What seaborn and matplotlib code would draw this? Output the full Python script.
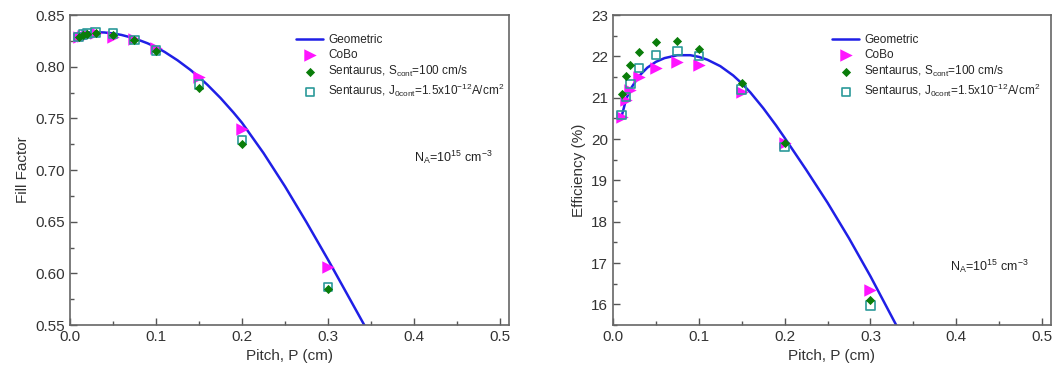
import numpy as np
import pandas as pd
import matplotlib
matplotlib.use("Agg")
import matplotlib.pyplot as plt
import seaborn as sns
from matplotlib.ticker import MultipleLocator, FormatStrFormatter

# pitch values of the simulated points (cm)
pitch_pts = [0.01, 0.015, 0.02, 0.03, 0.05, 0.075, 0.1, 0.15, 0.2, 0.3]

# geometric model curves
geo_ff_p = [0.005, 0.01, 0.02, 0.03, 0.04, 0.05, 0.06, 0.075, 0.09, 0.1, 0.11,
            0.125, 0.14, 0.15, 0.16, 0.175, 0.19, 0.2, 0.225, 0.25, 0.275,
            0.3, 0.325, 0.35]
geo_ff = [0.8316, 0.8323, 0.8332, 0.8335, 0.8332, 0.8323, 0.8308, 0.8275,
          0.8228, 0.819, 0.8144, 0.8063, 0.797, 0.790, 0.7824, 0.7698, 0.7558,
          0.7458, 0.7165, 0.6842, 0.6495, 0.6133, 0.5758, 0.5383]

geo_eff_p = [0.01, 0.015, 0.02, 0.03, 0.04, 0.05, 0.06, 0.075, 0.09, 0.1,
             0.11, 0.125, 0.14, 0.15, 0.16, 0.175, 0.19, 0.2, 0.225, 0.25,
             0.275, 0.3, 0.33]
geo_eff = [20.55, 20.95, 21.2, 21.52, 21.73, 21.87, 21.96, 22.03, 22.03, 21.99,
           21.92, 21.765, 21.54, 21.35, 21.13, 20.75, 20.33, 20.03, 19.26, 18.46,
           17.6, 16.68, 15.5]

# fill factor points
cobo_ff = [0.829, 0.830, 0.831, 0.833, 0.829, 0.827, 0.818, 0.790, 0.740, 0.606]
sent_s_ff = [0.829, 0.831, 0.832, 0.833, 0.831, 0.826, 0.815, 0.779, 0.725, 0.585]
sent_j_ff = [0.829, 0.831, 0.832, 0.833, 0.832, 0.826, 0.816, 0.783, 0.729, 0.587]

# efficiency points (%)
cobo_eff = [20.53, 20.94, 21.2, 21.5, 21.72, 21.87, 21.79, 21.14, 19.9, 16.35]
sent_s_eff = [21.09, 21.52, 21.79, 22.1, 22.35, 22.37, 22.18, 21.35, 19.9, 16.1]
sent_j_eff = [20.58, 21.02, 21.33, 21.72, 22.03, 22.13, 22.01, 21.2, 19.81, 15.98]

labels = ["Geometric", "CoBo",
          "Sentaurus, S$_{cont}$=100 cm/s",
          "Sentaurus, J$_{0cont}$=1.5x10$^{-12}$A/cm$^{2}$"]

sns.set_style("ticks")
plt.rcParams['font.family'] = ['Liberation Sans', 'DejaVu Sans']
plt.rcParams['mathtext.default'] = 'regular'

fig = plt.figure(figsize=(10.57, 3.78), dpi=100)
ax1 = fig.add_axes([0.0662, 0.140, 0.415, 0.820])
ax2 = fig.add_axes([0.580, 0.140, 0.414, 0.820])


def draw_panel(ax, geo_p, geo_y, cobo, sent_s, sent_j, leg_x):
    sns.lineplot(x=geo_p, y=geo_y, ax=ax, color='#1f1fe6', linewidth=1.8,
                 label=labels[0], zorder=2)
    sns.scatterplot(x=pitch_pts, y=cobo, ax=ax, marker='>', s=80,
                    color='#ff14ff', edgecolor='#ff14ff', linewidth=0,
                    label=labels[1], zorder=3)
    sns.scatterplot(x=pitch_pts, y=sent_j, ax=ax, marker='s', s=38,
                    facecolor='none', edgecolor='#2b9a9a', linewidth=1.2,
                    label=labels[3], zorder=4)
    sns.scatterplot(x=pitch_pts, y=sent_s, ax=ax, marker='D', s=22,
                    color='#0a7d0a', edgecolor='#0a7d0a', linewidth=0,
                    label=labels[2], zorder=5)
    handles, labs = ax.get_legend_handles_labels()
    order = [labs.index(l) for l in labels]
    ax.legend([handles[i] for i in order], [labs[i] for i in order],
              loc='upper left', bbox_to_anchor=(leg_x, 0.955), frameon=False,
              fontsize=8.5, handlelength=2.3, handletextpad=0.4,
              labelspacing=0.25, borderaxespad=0)
    ax.set_xlim(0, 0.51)
    ax.xaxis.set_major_locator(MultipleLocator(0.1))
    ax.xaxis.set_minor_locator(MultipleLocator(0.05))
    ax.set_xlabel("Pitch, P (cm)", fontsize=11, color='#333333')
    ax.tick_params(which='both', direction='in', top=False, right=False,
                   colors='#555555', labelcolor='#333333', labelsize=11)
    ax.tick_params(which='major', length=5, width=1)
    ax.tick_params(which='minor', length=3, width=1)
    for sp in ax.spines.values():
        sp.set_visible(True)
        sp.set_color('#666666')
        sp.set_linewidth(1.2)


draw_panel(ax1, geo_ff_p, geo_ff, cobo_ff, sent_s_ff, sent_j_ff, 0.505)
ax1.set_ylim(0.55, 0.85)
ax1.yaxis.set_major_locator(MultipleLocator(0.05))
ax1.yaxis.set_minor_locator(MultipleLocator(0.025))
ax1.yaxis.set_major_formatter(FormatStrFormatter('%.2f'))
ax1.set_ylabel("Fill Factor", fontsize=11, color='#333333')
ax1.text(0.785, 0.54, "N$_A$=10$^{15}$ cm$^{-3}$", transform=ax1.transAxes,
         fontsize=9, color='#222222', va='center')

draw_panel(ax2, geo_eff_p, geo_eff, cobo_eff, sent_s_eff, sent_j_eff, 0.49)
ax2.set_ylim(15.5, 23)
ax2.yaxis.set_major_locator(MultipleLocator(1))
ax2.yaxis.set_minor_locator(MultipleLocator(0.5))
ax2.set_ylabel("Efficiency (%)", fontsize=11, color='#333333')
ax2.text(0.77, 0.19, "N$_A$=10$^{15}$ cm$^{-3}$", transform=ax2.transAxes,
         fontsize=9, color='#222222', va='center')

fig.savefig("out.png", dpi=100)
